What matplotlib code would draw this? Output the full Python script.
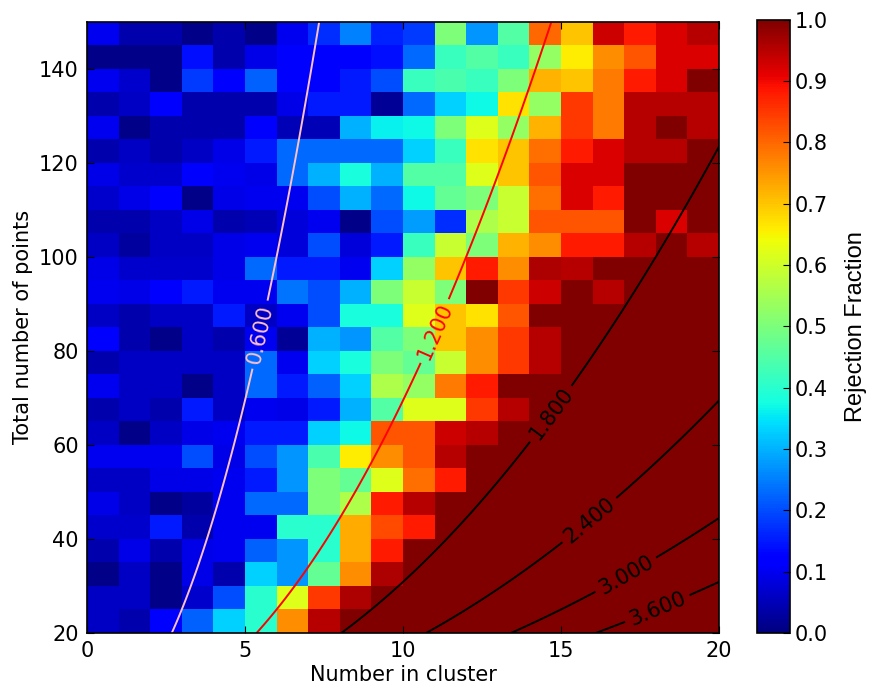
import numpy as np
import matplotlib
matplotlib.use("Agg")
import matplotlib.pyplot as plt

# cluster size along x, total number of points along y (cell edges)
cluster_edges = np.arange(0, 21, 1)
total_edges = np.arange(20, 151, 5)

# rejection fraction per cell, rows listed from N=145 (top) down to N=20
rows_top_down = [
    [0.10, 0.04, 0.04, 0.01, 0.04, 0.01, 0.10, 0.17, 0.25, 0.16, 0.18, 0.50, 0.27, 0.45, 0.80, 0.70, 0.93, 0.88, 0.92, 0.95],
    [0.01, 0.01, 0.01, 0.14, 0.04, 0.09, 0.11, 0.11, 0.11, 0.14, 0.23, 0.42, 0.45, 0.42, 0.53, 0.66, 0.76, 0.82, 0.92, 0.92],
    [0.10, 0.07, 0.01, 0.18, 0.11, 0.22, 0.11, 0.11, 0.15, 0.20, 0.42, 0.44, 0.42, 0.50, 0.72, 0.70, 0.78, 0.88, 0.92, 1.00],
    [0.04, 0.06, 0.12, 0.04, 0.04, 0.04, 0.09, 0.15, 0.15, 0.02, 0.23, 0.33, 0.37, 0.67, 0.53, 0.85, 0.78, 0.95, 0.95, 0.95],
    [0.10, 0.01, 0.04, 0.04, 0.04, 0.11, 0.05, 0.05, 0.30, 0.36, 0.37, 0.50, 0.62, 0.53, 0.72, 0.85, 0.78, 0.95, 1.00, 0.95],
    [0.04, 0.06, 0.04, 0.06, 0.09, 0.15, 0.23, 0.23, 0.23, 0.23, 0.33, 0.42, 0.67, 0.70, 0.79, 0.88, 0.92, 0.95, 0.95, 1.00],
    [0.09, 0.07, 0.07, 0.11, 0.10, 0.09, 0.23, 0.30, 0.38, 0.30, 0.45, 0.45, 0.62, 0.70, 0.82, 0.92, 0.92, 1.00, 1.00, 1.00],
    [0.07, 0.09, 0.12, 0.01, 0.09, 0.10, 0.10, 0.20, 0.30, 0.23, 0.37, 0.47, 0.50, 0.59, 0.79, 0.92, 0.88, 1.00, 1.00, 1.00],
    [0.04, 0.04, 0.06, 0.09, 0.04, 0.05, 0.08, 0.10, 0.01, 0.20, 0.28, 0.17, 0.56, 0.59, 0.82, 0.82, 0.82, 1.00, 0.92, 1.00],
    [0.06, 0.03, 0.06, 0.06, 0.09, 0.10, 0.08, 0.20, 0.08, 0.15, 0.42, 0.59, 0.50, 0.72, 0.76, 0.88, 0.88, 0.95, 1.00, 0.95],
    [0.09, 0.07, 0.07, 0.07, 0.09, 0.23, 0.15, 0.15, 0.10, 0.33, 0.53, 0.70, 0.88, 0.76, 0.96, 0.95, 1.00, 1.00, 1.00, 1.00],
    [0.10, 0.09, 0.11, 0.15, 0.10, 0.10, 0.24, 0.20, 0.30, 0.50, 0.59, 0.50, 1.00, 0.85, 0.93, 1.00, 0.95, 1.00, 1.00, 1.00],
    [0.06, 0.04, 0.06, 0.06, 0.15, 0.06, 0.10, 0.20, 0.38, 0.38, 0.62, 0.70, 0.67, 0.82, 1.00, 1.00, 1.00, 1.00, 1.00, 1.00],
    [0.11, 0.04, 0.01, 0.06, 0.04, 0.10, 0.02, 0.30, 0.27, 0.45, 0.50, 0.70, 0.76, 0.85, 0.95, 1.00, 1.00, 1.00, 1.00, 1.00],
    [0.04, 0.06, 0.06, 0.06, 0.06, 0.23, 0.10, 0.33, 0.38, 0.50, 0.47, 0.59, 0.76, 0.85, 0.95, 1.00, 1.00, 1.00, 1.00, 1.00],
    [0.10, 0.06, 0.06, 0.01, 0.06, 0.23, 0.15, 0.22, 0.33, 0.56, 0.53, 0.78, 0.88, 1.00, 1.00, 1.00, 1.00, 1.00, 1.00, 1.00],
    [0.04, 0.06, 0.04, 0.15, 0.06, 0.10, 0.09, 0.15, 0.30, 0.45, 0.62, 0.62, 0.85, 0.95, 1.00, 1.00, 1.00, 1.00, 1.00, 1.00],
    [0.06, 0.01, 0.06, 0.09, 0.10, 0.15, 0.15, 0.33, 0.37, 0.82, 0.82, 0.93, 0.95, 1.00, 1.00, 1.00, 1.00, 1.00, 1.00, 1.00],
    [0.10, 0.10, 0.10, 0.20, 0.09, 0.20, 0.27, 0.44, 0.66, 0.76, 0.82, 0.95, 1.00, 1.00, 1.00, 1.00, 1.00, 1.00, 1.00, 1.00],
    [0.06, 0.06, 0.09, 0.09, 0.10, 0.15, 0.27, 0.50, 0.47, 0.62, 0.79, 0.88, 1.00, 1.00, 1.00, 1.00, 1.00, 1.00, 1.00, 1.00],
    [0.09, 0.06, 0.01, 0.03, 0.10, 0.23, 0.23, 0.50, 0.56, 0.88, 0.95, 1.00, 1.00, 1.00, 1.00, 1.00, 1.00, 1.00, 1.00, 1.00],
    [0.07, 0.07, 0.15, 0.04, 0.10, 0.10, 0.40, 0.40, 0.73, 0.83, 0.88, 1.00, 1.00, 1.00, 1.00, 1.00, 1.00, 1.00, 1.00, 1.00],
    [0.04, 0.09, 0.04, 0.09, 0.10, 0.22, 0.27, 0.40, 0.73, 0.88, 1.00, 1.00, 1.00, 1.00, 1.00, 1.00, 1.00, 1.00, 1.00, 1.00],
    [0.01, 0.06, 0.01, 0.09, 0.04, 0.33, 0.27, 0.47, 0.76, 0.96, 1.00, 1.00, 1.00, 1.00, 1.00, 1.00, 1.00, 1.00, 1.00, 1.00],
    [0.06, 0.06, 0.01, 0.07, 0.20, 0.40, 0.62, 0.85, 0.96, 1.00, 1.00, 1.00, 1.00, 1.00, 1.00, 1.00, 1.00, 1.00, 1.00, 1.00],
    [0.06, 0.04, 0.11, 0.22, 0.33, 0.40, 0.76, 0.95, 1.00, 1.00, 1.00, 1.00, 1.00, 1.00, 1.00, 1.00, 1.00, 1.00, 1.00, 1.00],
]

# significance levels k / sqrt(N) drawn as contours
sig_levels = [0.6, 1.2, 1.8, 2.4, 3.0, 3.6]
sig_colors = ["pink", "red", "k", "k", "k", "k"]

plt.rcParams["font.family"] = "DejaVu Sans"
plt.rcParams["xtick.direction"] = "in"
plt.rcParams["ytick.direction"] = "in"

rejection = np.flipud(np.array(rows_top_down))

fig = plt.figure(figsize=(8.69, 6.93), dpi=100)
ax = fig.add_axes([0.1001, 0.0866, 0.7273, 0.8821])
cax = fig.add_axes([0.8711, 0.0866, 0.038, 0.8850])

mesh = ax.pcolormesh(cluster_edges, total_edges, rejection, cmap="jet", vmin=0.0, vmax=1.0)

kk, nn = np.meshgrid(np.linspace(0, 20, 401), np.linspace(20, 150, 521))
cs = ax.contour(kk, nn, kk / np.sqrt(nn), levels=sig_levels, colors=sig_colors, linewidths=1.4)
ax.clabel(cs, fmt="%.3f", fontsize=15, inline=True,
          manual=[(5.1, 84), (10.4, 86), (14.4, 68), (15.9, 44), (17.0, 33), (18.0, 26)])

ax.set_xlim(0, 20)
ax.set_ylim(20, 150)
ax.set_xticks([0, 5, 10, 15, 20])
ax.set_yticks(np.arange(20, 141, 20))
ax.tick_params(labelsize=15, top=True, right=True, length=5, width=0.8, pad=6)
ax.set_xlabel("Number in cluster", fontsize=15, labelpad=3)
ax.set_ylabel("Total number of points", fontsize=15)
for s in ax.spines.values():
    s.set_linewidth(1.2)

cb = fig.colorbar(mesh, cax=cax, ticks=np.arange(0, 1.01, 0.1))
cb.ax.tick_params(labelsize=15, direction="in", length=5, width=0.8)
cb.ax.yaxis.set_major_formatter(matplotlib.ticker.FormatStrFormatter("%.1f"))
cb.set_label("Rejection Fraction", fontsize=17, family="Liberation Sans", labelpad=12)
cb.outline.set_linewidth(1.2)

fig.savefig("out.png", dpi=100)
